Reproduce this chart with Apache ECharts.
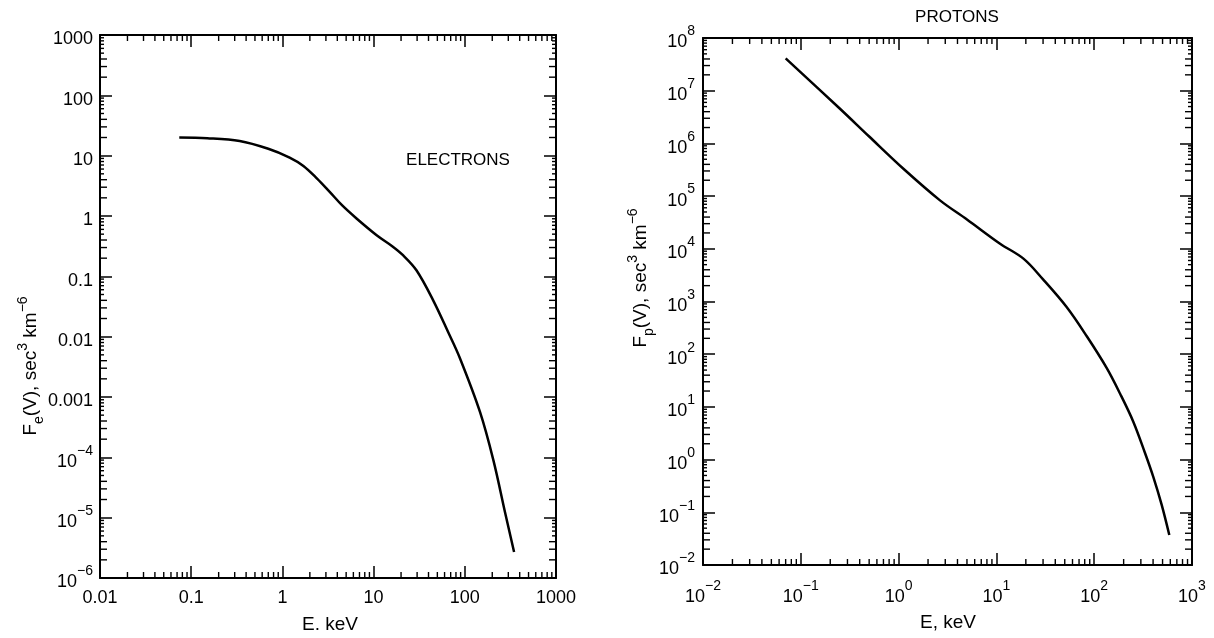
<!DOCTYPE html>
<html>
<head>
<meta charset="utf-8">
<script src="https://cdn.jsdelivr.net/npm/echarts@6/dist/echarts.min.js"></script>
<style>
html,body{margin:0;padding:0;background:#fff;}
#c{width:1214px;height:638px;}
</style>
</head>
<body>
<div id="c"></div>
<script>
// ---- data ----
const electronE = [0.074, 0.15, 0.34, 0.7, 1.2, 1.7, 2.4, 3.3, 4.5, 6.5, 10.8, 16, 21, 29.5, 45, 66, 88, 147, 206, 276, 347];
const electronF = [20, 19.5, 17.5, 13, 9.3, 6.76, 4.17, 2.51, 1.51, 0.91, 0.48, 0.316, 0.224, 0.126, 0.04, 0.0117, 0.00447, 5.6e-4, 8.9e-5, 1.23e-5, 2.7e-6];
const protonE = [0.07, 0.25, 0.5, 1.12, 2.65, 5, 10.9, 18.9, 30, 52, 84, 134, 184, 251, 330, 402, 490, 586];
const protonF = [4.1e7, 4.6e6, 1.35e6, 3.3e5, 8.3e4, 3.6e4, 1.25e4, 6.5e3, 2.63e3, 794, 219, 55, 17.8, 5.25, 1.35, 0.47, 0.138, 0.037];

// tick labels (decade by decade, lowest first)
const leftXLabels = ['0.01', '0.1', '1', '10', '100', '1000'];
const leftYLabels = ['10^−6', '10^−5', '10^−4', '0.001', '0.01', '0.1', '1', '10', '100', '1000'];
const rightXLabels = ['10^−2', '10^−1', '10^0', '10^1', '10^2', '10^3'];
const rightYLabels = ['10^−2', '10^−1', '10^0', '10^1', '10^2', '10^3', '10^4', '10^5', '10^6', '10^7', '10^8'];

const leftXExp = [-2, 3], leftYExp = [-6, 3];
const rightXExp = [-2, 3], rightYExp = [-2, 8];

const FONT = '"Liberation Sans", Arial, sans-serif';

function toRich(s) {
  const i = s.indexOf('^');
  if (i < 0) return '{b|' + s + '}';
  return '{b|' + s.slice(0, i) + '}{s|' + s.slice(i + 1) + '}';
}
function labelFmt(labels, minExp) {
  return function (v) {
    const k = Math.round(Math.log10(v)) - minExp;
    return labels[k] != null ? toRich(labels[k]) : '';
  };
}
const tickRich = {
  b: { fontSize: 18, fontFamily: FONT, color: '#000', lineHeight: 27, verticalAlign: 'bottom' },
  s: { fontSize: 14, fontFamily: FONT, color: '#000', lineHeight: 27, verticalAlign: 'top' }
};

function minorTickData(xExp, yExp) {
  const out = [];
  const xmin = Math.pow(10, xExp[0]), ymin = Math.pow(10, yExp[0]);
  const xmax = Math.pow(10, xExp[1]), ymax = Math.pow(10, yExp[1]);
  for (let k = xExp[0]; k < xExp[1]; k++) {
    for (let m = 2; m <= 9; m++) {
      const v = m * Math.pow(10, k);
      out.push([v, ymin, 1, 6]);
      out.push([v, ymax, 2, 6]);
    }
  }
  for (let k = yExp[0]; k < yExp[1]; k++) {
    for (let m = 2; m <= 9; m++) {
      const v = m * Math.pow(10, k);
      const len = m <= 4 ? 7 : 4;
      out.push([xmin, v, 3, len]);
      out.push([xmax, v, 4, len]);
    }
  }
  return out;
}
function renderTick(params, api) {
  const p = api.coord([api.value(0), api.value(1)]);
  const side = api.value(2), len = api.value(3);
  let x2 = p[0], y2 = p[1];
  if (side === 1) y2 = p[1] - len;
  else if (side === 2) y2 = p[1] + len;
  else if (side === 3) x2 = p[0] + len;
  else x2 = p[0] - len;
  return { type: 'line', shape: { x1: p[0], y1: p[1], x2: x2, y2: y2 }, style: { stroke: '#000', lineWidth: 1.4 } };
}

function axis(gridIndex, exp, position, labels, margin) {
  return {
    type: 'log', logBase: 10, gridIndex: gridIndex, position: position,
    min: Math.pow(10, exp[0]), max: Math.pow(10, exp[1]),
    interval: 1, splitNumber: exp[1] - exp[0],
    axisLine: { show: true, onZero: false, lineStyle: { color: '#000', width: 2 } },
    axisTick: { show: true, inside: true, length: 12, lineStyle: { color: '#000', width: 1.5 } },
    minorTick: { show: false },
    splitLine: { show: false },
    axisLabel: {
      show: !!labels, formatter: labels ? labelFmt(labels, exp[0]) : '',
      margin: margin || 6, rich: tickRich, color: '#000'
    }
  };
}

const chart = echarts.init(document.getElementById('c'), null, { renderer: 'canvas' });
const titleRich = {
  t: { fontSize: 19, fontFamily: FONT, fill: '#000', lineHeight: 30, verticalAlign: 'middle' },
  sub: { fontSize: 14, fontFamily: FONT, fill: '#000', lineHeight: 30, verticalAlign: 'bottom' },
  sup: { fontSize: 14, fontFamily: FONT, fill: '#000', lineHeight: 30, verticalAlign: 'top' }
};
const option = {
  animation: false,
  backgroundColor: '#fff',
  grid: [
    { left: 100, top: 35, width: 456, height: 543, containLabel: false, outerBoundsMode: 'none' },
    { left: 703, top: 38, width: 489, height: 527, containLabel: false, outerBoundsMode: 'none' }
  ],
  xAxis: [
    axis(0, leftXExp, 'bottom', leftXLabels, 2),
    axis(0, leftXExp, 'top', null),
    axis(1, rightXExp, 'bottom', rightXLabels, 14),
    axis(1, rightXExp, 'top', null)
  ],
  yAxis: [
    axis(0, leftYExp, 'left', leftYLabels, 7),
    axis(0, leftYExp, 'right', null),
    axis(1, rightYExp, 'left', rightYLabels, 8),
    axis(1, rightYExp, 'right', null)
  ],
  series: [
    {
      type: 'line', xAxisIndex: 0, yAxisIndex: 0,
      data: electronE.map((e, i) => [e, electronF[i]]),
      showSymbol: false, smooth: 0.35,
      lineStyle: { color: '#000', width: 2.5 }
    },
    {
      type: 'line', xAxisIndex: 2, yAxisIndex: 2,
      data: protonE.map((e, i) => [e, protonF[i]]),
      showSymbol: false, smooth: 0.35,
      lineStyle: { color: '#000', width: 2.5 }
    },
    {
      type: 'custom', xAxisIndex: 0, yAxisIndex: 0, silent: true, clip: false,
      renderItem: renderTick, data: minorTickData(leftXExp, leftYExp)
    },
    {
      type: 'custom', xAxisIndex: 2, yAxisIndex: 2, silent: true, clip: false,
      renderItem: renderTick, data: minorTickData(rightXExp, rightYExp)
    }
  ],
  graphic: [
    { type: 'text', x: 458, y: 160, style: { text: 'ELECTRONS', fontSize: 17, fontFamily: FONT, fill: '#000', align: 'center', verticalAlign: 'middle' } },
    { type: 'text', x: 957, y: 17, style: { text: 'PROTONS', fontSize: 17, fontFamily: FONT, fill: '#000', align: 'center', verticalAlign: 'middle' } },
    { type: 'text', x: 330, y: 625, style: { text: 'E. keV', fontSize: 19, fontFamily: FONT, fill: '#000', align: 'center', verticalAlign: 'middle' } },
    { type: 'text', x: 948, y: 623, style: { text: 'E, keV', fontSize: 19, fontFamily: FONT, fill: '#000', align: 'center', verticalAlign: 'middle' } },
    {
      type: 'text', x: 31, y: 366, rotation: Math.PI / 2,
      style: { text: '{t|F}{sub|e}{t|(V), sec}{sup|3}{t| km}{sup|−6}', align: 'center', verticalAlign: 'middle', rich: titleRich }
    },
    {
      type: 'text', x: 641, y: 278, rotation: Math.PI / 2,
      style: { text: '{t|F}{sub|p}{t|(V), sec}{sup|3}{t| km}{sup|−6}', align: 'center', verticalAlign: 'middle', rich: titleRich }
    }
  ]
};
chart.setOption(option);
</script>
</body>
</html>
